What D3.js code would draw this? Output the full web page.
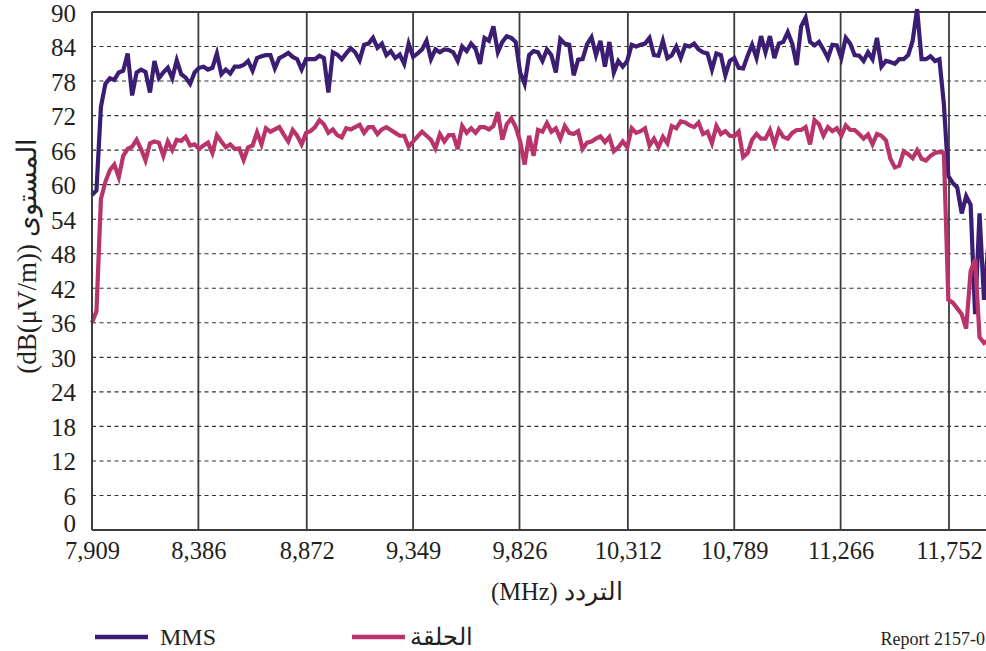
<!DOCTYPE html>
<html>
<head>
<meta charset="utf-8">
<script src="https://cdn.jsdelivr.net/npm/d3@7"></script>
<style>
  body { margin: 0; background: #fff; }
  svg { display: block; font-family: 'Liberation Serif', 'Times New Roman', 'DejaVu Serif', serif; }
</style>
</head>
<body>
<svg width="986" height="651"></svg>
<script>
// frequency sweep (MHz), one reading every 20 MHz
const freqs = d3.range(7909, 11930, 20);

const xTicks = [7909, 8386, 8872, 9349, 9826, 10312, 10789, 11266, 11752];
const yTicks = [0, 6, 12, 18, 24, 30, 36, 42, 48, 54, 60, 66, 72, 78, 84, 90];

// levels dB(uV/m)
const mms = [
  58.2, 59, 73.5, 77.5, 78.5, 78.2, 79.5, 79.8, 82.8, 75.5, 79.5, 80, 79.6, 76, 81.5, 78.5, 79.5, 80.3, 78.5, 81.6, 79.2, 78.6, 77.5, 79.5,
  80.3, 80.5, 80, 80.3, 82.8, 79.2, 80, 79.3, 80.5, 80.5, 80.8, 81.5, 79.8, 82, 82.3, 82.5, 82.5, 80.2, 82, 82.4, 82.9, 82.2, 81.8, 80,
  81.8, 81.8, 81.8, 82.4, 82, 76, 83, 82.6, 81.8, 82.8, 83.7, 83, 81.6, 84.3, 84.5, 85.5, 83.8, 84.5, 82.5, 83.2, 82, 82.6, 81, 84.5,
  82.2, 82.8, 83.5, 85, 81.8, 83.5, 83, 83.5, 83.4, 83, 81.5, 84, 83.2, 84.5, 83.6, 81, 85.5, 85, 87.5, 83, 84.8, 85.8, 85.5, 84.8,
  79.5, 77.5, 82.5, 83.2, 83, 81.5, 83.5, 82.5, 79.5, 85.3, 84.5, 84.3, 79, 81.7, 81.8, 84.4, 85.6, 82.5, 85, 80.5, 84.8, 79.5, 81.5, 80.5,
  81.5, 84.3, 84, 84.3, 84.5, 85.5, 82.5, 82.4, 85, 82, 82.5, 84, 82, 84.2, 84, 84.5, 83.5, 83, 82.8, 80, 82.8, 82.5, 79, 81.5,
  82, 80.3, 80.2, 82.4, 84.3, 82, 85.8, 83, 85.8, 82, 84.5, 84.8, 86.5, 84.5, 80.8, 87.5, 89, 84.8, 84.2, 84.8, 83.5, 82, 84.3, 84.2,
  82, 85.5, 84.5, 82.5, 82.4, 81.5, 83, 81.8, 85.5, 80.5, 81.5, 81.3, 81, 81.8, 81.8, 82.5, 85, 90.5, 81.8, 81.8, 82.3, 81.5, 81.8, 74,
  61.5, 60.3, 59.5, 55, 58, 56.5, 37.5, 55, 40, 50
];

const ring = [
  36, 38, 57.5, 60.5, 62.5, 63.5, 61.3, 65, 66.2, 66.6, 67.8, 66.2, 64.2, 67.2, 67.5, 67.3, 65, 67.5, 66, 67.8, 67.6, 68.3, 66.8, 67,
  66.2, 66.8, 67.3, 65.5, 68.6, 67.5, 66.5, 67, 66.2, 66.3, 64.3, 66.5, 66.8, 69.1, 67, 69.8, 69.2, 69.6, 70, 68.7, 67.5, 69.5, 68.5, 67,
  69, 69.3, 70, 71.2, 70.5, 69, 69.6, 68.6, 68.2, 69.8, 69.6, 70, 70.4, 69, 70, 70, 68.8, 69.6, 70, 69.5, 69, 68.5, 68.5, 66.6,
  67.5, 68.4, 69.2, 68.5, 67.8, 66.3, 68.8, 67.5, 68.6, 68.6, 66.2, 70.2, 69, 69.8, 69, 70, 70, 69.6, 70.2, 72.6, 67.8, 70.5, 71.5, 70,
  67.5, 63.5, 68.5, 65, 69.5, 69.2, 70.7, 69.2, 69.8, 68, 70.2, 69, 68.8, 69.3, 66.2, 67.3, 67.5, 68, 68.4, 67.4, 68.3, 65.8, 66.5, 67.5,
  66.5, 69.8, 69, 69.3, 69.8, 66.8, 68, 66.5, 68.3, 67.2, 70.2, 69.8, 71, 70.8, 70.3, 70, 70.8, 68.8, 69.2, 67.2, 70.2, 68.8, 69.3, 68.5,
  68.4, 69.2, 64.8, 65.5, 67.8, 68.8, 68, 68, 69.5, 67, 69.5, 68.3, 68, 69, 69.5, 69.5, 70, 67, 71.2, 70.5, 68.5, 70, 69.3, 69.8,
  68.5, 70.3, 69.5, 69.5, 68.8, 68, 68.7, 67, 68.8, 68.5, 67.7, 64.5, 63, 63.3, 65.8, 65.3, 64.6, 66, 64.5, 64.2, 65, 65.5, 65.7, 65.5,
  40, 39.5, 38.5, 37.5, 35, 45, 47, 33.5, 32.5, 33
];

const seriesNames = ['MMS', 'الحلقة'];
const seriesColors = ['#3b1e73', '#b8346b'];

const svg = d3.select('svg');
const plotLeft = 92;
const plotRight = 949;
const plotTop = 12;
const plotBottom = 530;
const serif = '\'Liberation Serif\', \'Times New Roman\', \'DejaVu Serif\', serif';

const x = d3.scaleLinear().domain([7909, 11752]).range([plotLeft, plotRight]);
const y = d3.scaleLinear().domain([0, 90]).range([plotBottom, plotTop]);

// horizontal dashed grid
svg.append('g')
  .selectAll('line')
  .data(yTicks.filter(d => d > 0 && d < 90))
  .enter()
  .append('line')
  .attr('x1', plotLeft)
  .attr('x2', 986)
  .attr('y1', d => y(d))
  .attr('y2', d => y(d))
  .attr('stroke', '#333')
  .attr('stroke-width', 1.1)
  .attr('stroke-dasharray', '4,3.5');

// vertical solid grid
svg.append('g')
  .selectAll('line')
  .data(xTicks)
  .enter()
  .append('line')
  .attr('x1', d => x(d))
  .attr('x2', d => x(d))
  .attr('y1', plotTop)
  .attr('y2', plotBottom)
  .attr('stroke', '#3a3c40')
  .attr('stroke-width', 1.8);

// frame: top and bottom
svg.append('line')
  .attr('x1', plotLeft).attr('x2', 986)
  .attr('y1', plotTop).attr('y2', plotTop)
  .attr('stroke', '#3a3c40').attr('stroke-width', 1.8);
svg.append('line')
  .attr('x1', plotLeft).attr('x2', 986)
  .attr('y1', plotBottom).attr('y2', plotBottom)
  .attr('stroke', '#3a3c40').attr('stroke-width', 1.8);

// axes labels via d3 axes, domain/ticks hidden
const yAxis = svg.append('g')
  .attr('transform', `translate(${plotLeft},0)`)
  .call(d3.axisLeft(y).tickValues(yTicks).tickSize(0).tickPadding(16));
yAxis.select('.domain').remove();
yAxis.selectAll('text')
  .style('font-family', serif)
  .attr('font-size', 25)
  .attr('fill', '#231f20')
  .attr('dy', d => (d === 0 ? '0.06em' : '0.36em'));

const xAxis = svg.append('g')
  .attr('transform', `translate(0,${plotBottom})`)
  .call(d3.axisBottom(x).tickValues(xTicks).tickFormat(d3.format(',')).tickSize(0).tickPadding(11));
xAxis.select('.domain').remove();
xAxis.selectAll('text')
  .style('font-family', serif)
  .attr('font-size', 24.5)
  .attr('fill', '#231f20')
  .attr('dy', '0.74em');

// series
const line = d3.line()
  .x((d, i) => x(freqs[i]))
  .y(d => y(d));

[mms, ring].forEach((vals, i) => {
  svg.append('path')
    .datum(vals)
    .attr('d', line)
    .attr('fill', 'none')
    .attr('stroke', seriesColors[i])
    .attr('stroke-width', 4.2)
    .attr('stroke-linejoin', 'miter')
    .attr('stroke-miterlimit', 4);
});

// left axis line on top
svg.append('line')
  .attr('x1', plotLeft).attr('x2', plotLeft)
  .attr('y1', plotTop).attr('y2', plotBottom)
  .attr('stroke', '#3a3c40').attr('stroke-width', 1.8);

// axis titles
svg.append('text')
  .attr('transform', 'translate(36,256) rotate(-90)')
  .attr('text-anchor', 'middle')
  .attr('font-size', 27)
  .attr('fill', '#231f20')
  .text('(dB(μV/m)) المستوى');

svg.append('text')
  .attr('x', 557)
  .attr('y', 600)
  .attr('text-anchor', 'middle')
  .attr('font-size', 24.5)
  .attr('fill', '#231f20')
  .text('(MHz) التردد');

// legend
const legendX = [95, 352];
seriesNames.forEach((name, i) => {
  svg.append('line')
    .attr('x1', legendX[i]).attr('x2', legendX[i] + 53)
    .attr('y1', 637).attr('y2', 637)
    .attr('stroke', seriesColors[i])
    .attr('stroke-width', 4.5);
  svg.append('text')
    .attr('x', i === 0 ? legendX[i] + 65 : legendX[i] + 58)
    .attr('y', 645)
    .attr('font-size', 24)
    .attr('fill', '#231f20')
    .text(name);
});

svg.append('text')
  .attr('x', 985)
  .attr('y', 645)
  .attr('text-anchor', 'end')
  .attr('font-size', 18)
  .attr('fill', '#231f20')
  .text('Report 2157-0');
</script>
</body>
</html>
